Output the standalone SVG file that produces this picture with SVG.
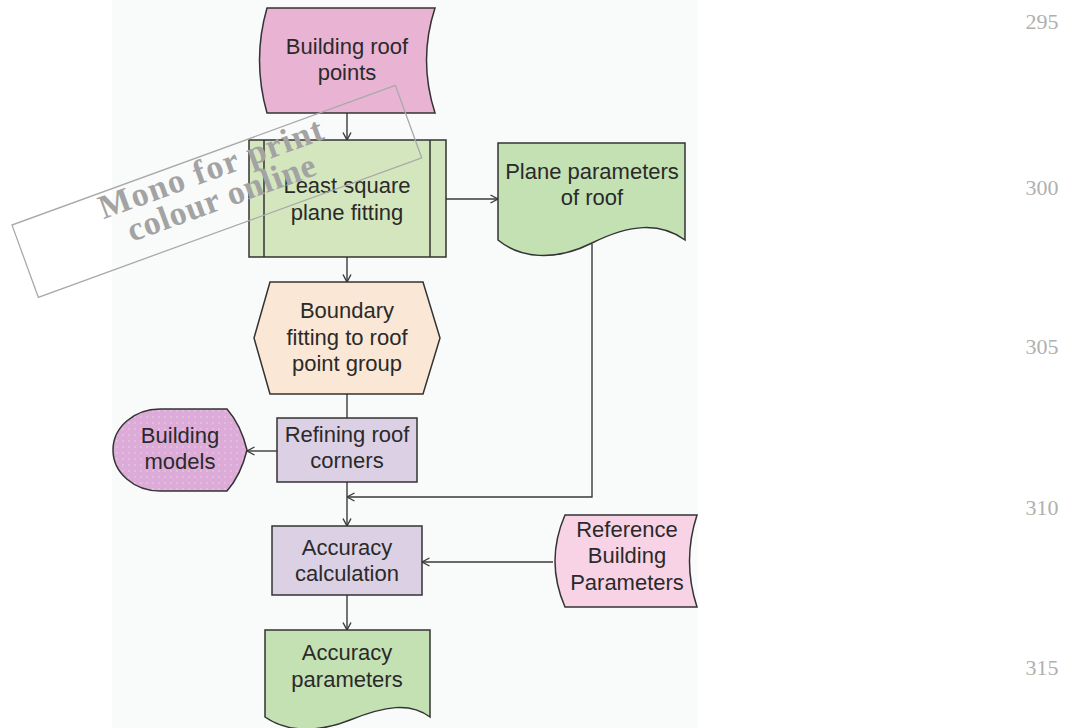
<svg xmlns="http://www.w3.org/2000/svg" width="1074" height="728" viewBox="0 0 1074 728">
<defs>
<style>
.sh{stroke:#333;stroke-width:1.5}
.t{font-family:"Liberation Sans",Arial,sans-serif;font-size:22px;fill:#2a2a2a;text-anchor:middle}
.c{fill:none;stroke:#3a3a3a;stroke-width:1.4}
.pg{font-family:"Liberation Serif","Times New Roman",serif;font-size:22px;fill:#b0b0b0;text-anchor:middle}
.wm{font-family:"Liberation Serif","Times New Roman",serif;font-size:34px;font-weight:bold;fill:#a3a3a3;text-anchor:middle}
</style>
<marker id="ah" viewBox="0 0 10 10" refX="9.5" refY="5" markerWidth="10" markerHeight="10" markerUnits="userSpaceOnUse" orient="auto">
<path d="M2,1 L9.5,5 L2,9" fill="none" stroke="#3a3a3a" stroke-width="1.4"/>
</marker>
<pattern id="dots" width="6" height="6" patternUnits="userSpaceOnUse">
<rect width="6" height="6" fill="#dcabd8"/>
<circle cx="3" cy="3" r="1.1" fill="#e6bfe3"/>
</pattern>
</defs>
<rect x="0" y="0" width="1074" height="728" fill="#ffffff"/>
<rect x="112" y="0" width="586" height="728" fill="#f9fafa"/>

<g id="connectors">
<line class="c" x1="347" y1="113" x2="347" y2="140" marker-end="url(#ah)"/>
<line class="c" x1="446" y1="199" x2="498" y2="199" marker-end="url(#ah)"/>
<line class="c" x1="347" y1="257" x2="347" y2="282" marker-end="url(#ah)"/>
<line class="c" x1="347" y1="394" x2="347" y2="418"/>
<line class="c" x1="277" y1="451" x2="247" y2="451" marker-end="url(#ah)"/>
<polyline class="c" points="592,244 592,497 347,497" marker-end="url(#ah)"/>
<line class="c" x1="347" y1="482" x2="347" y2="526" marker-end="url(#ah)"/>
<line class="c" x1="553" y1="562" x2="422" y2="562" marker-end="url(#ah)"/>
<line class="c" x1="347" y1="595" x2="347" y2="630" marker-end="url(#ah)"/>
</g>

<g id="building-roof-points">
<path class="sh" d="M267,8 L435,8 Q418,60 435,113 L267,113 Q252,60 267,8 Z" fill="#e9b4d4"/>
<text class="t" x="347" y="54">Building roof</text>
<text class="t" x="347" y="80">points</text>
</g>

<g id="least-square">
<rect class="sh" x="249" y="140" width="197" height="117" fill="#d4e6bd"/>
<line class="sh" x1="264" y1="140" x2="264" y2="257"/>
<line class="sh" x1="430" y1="140" x2="430" y2="257"/>
<text class="t" x="347" y="193">Least square</text>
<text class="t" x="347" y="220">plane fitting</text>
</g>

<g id="plane-parameters">
<path class="sh" d="M498,143 H685 V240 C660,222 630,224 592,243 S520,258 498,240 Z" fill="#c4e1b4"/>
<text class="t" x="592" y="179">Plane parameters</text>
<text class="t" x="592" y="205">of roof</text>
</g>

<g id="boundary-fitting">
<polygon class="sh" points="270,282 423,282 440,338 423,394 270,394 254,338" fill="#fbe7d5"/>
<text class="t" x="347" y="318">Boundary</text>
<text class="t" x="347" y="345">fitting to roof</text>
<text class="t" x="347" y="371">point group</text>
</g>

<g id="refining-corners">
<rect class="sh" x="277" y="418" width="140" height="64" fill="#dcd0e5"/>
<text class="t" x="347" y="442">Refining roof</text>
<text class="t" x="347" y="468">corners</text>
</g>

<g id="building-models">
<path class="sh" d="M160,409 H227 Q241,425 247,450 Q241,475 227,491 H160 A47,41 0 0 1 160,409 Z" fill="url(#dots)"/>
<text class="t" x="180" y="443">Building</text>
<text class="t" x="180" y="469">models</text>
</g>

<g id="accuracy-calculation">
<rect class="sh" x="272" y="526" width="150" height="69" fill="#dcd0e5"/>
<text class="t" x="347" y="555">Accuracy</text>
<text class="t" x="347" y="581">calculation</text>
</g>

<g id="reference-parameters">
<path class="sh" d="M565,515 H697 Q682,561 697,607 H565 Q545,561 565,515 Z" fill="#f8d3e6"/>
<text class="t" x="627" y="537">Reference</text>
<text class="t" x="627" y="563">Building</text>
<text class="t" x="627" y="590">Parameters</text>
</g>

<g id="accuracy-parameters">
<path class="sh" d="M265,630 H430 V717 C410,702 385,706 350,720 S285,731 265,717 Z" fill="#c4e1b4"/>
<text class="t" x="347" y="660">Accuracy</text>
<text class="t" x="347" y="687">parameters</text>
</g>

<g id="watermark" transform="translate(12,225) rotate(-20)">
<rect x="0" y="0" width="408" height="77" fill="none" stroke="#a9a9a9" stroke-width="1.3"/>
<text class="wm" x="206" y="26" textLength="236" lengthAdjust="spacing">Mono for print</text>
<text class="wm" x="206" y="57" textLength="198" lengthAdjust="spacing">colour online</text>
</g>

<g id="page-numbers">
<text class="pg" x="1042" y="29">295</text>
<text class="pg" x="1042" y="195">300</text>
<text class="pg" x="1042" y="354">305</text>
<text class="pg" x="1042" y="515">310</text>
<text class="pg" x="1042" y="675">315</text>
</g>
</svg>
